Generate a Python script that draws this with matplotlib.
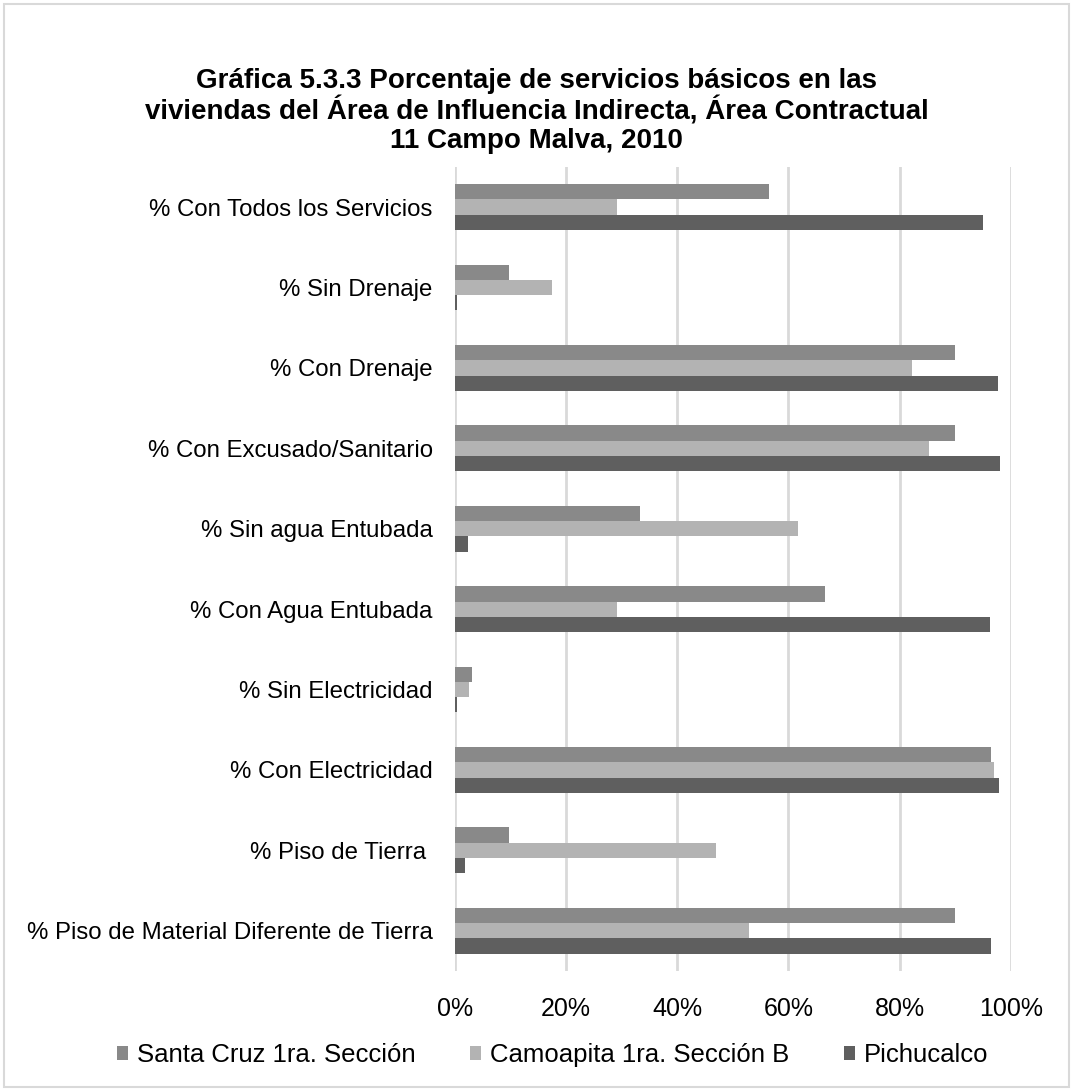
import matplotlib.pyplot as plt
import numpy as np
from matplotlib.patches import Rectangle

plt.rcParams['font.family'] = ['Liberation Sans', 'DejaVu Sans']

#%% data

categorias = ['% Con Todos los Servicios', '% Sin Drenaje', '% Con Drenaje',
              '% Con Excusado/Sanitario', '% Sin agua Entubada',
              '% Con Agua Entubada', '% Sin Electricidad', '% Con Electricidad',
              '% Piso de Tierra ', '% Piso de Material Diferente de Tierra']

santa_cruz = [56.5, 9.7, 90.0, 90.0, 33.3, 66.6, 3.0, 96.5, 9.7, 90.0]
camoapita = [29.1, 17.4, 82.2, 85.3, 61.8, 29.1, 2.6, 97.0, 46.9, 52.9]
pichucalco = [95.0, 0.4, 97.7, 98.1, 2.3, 96.2, 0.3, 97.9, 1.8, 96.4]

series = ['Santa Cruz 1ra. Sección', 'Camoapita 1ra. Sección B', 'Pichucalco']
colores = ['#898989', '#b3b3b3', '#5f5f5f']

#%% plot

fig = plt.figure(figsize=(10.73, 10.91), dpi=100)
ax = fig.add_axes([0.424, 0.110, 0.518, 0.737])

y = np.arange(len(categorias))
h = 0.19
for i, (vals, nombre, c) in enumerate(zip([santa_cruz, camoapita, pichucalco], series, colores)):
    ax.barh(y + (i - 1) * h, vals, height=h, color=c, label=nombre,
            linewidth=0, zorder=3)

ax.set_ylim(len(categorias) - 0.5, -0.5)
ax.set_xlim(0, 100)
ax.set_xticks(range(0, 101, 20))
ax.set_xticklabels([f'{v}%' for v in range(0, 101, 20)], fontsize=18)
ax.set_yticks(y)
ax.set_yticklabels(categorias, fontsize=17.3)
ax.tick_params(axis='y', length=0, pad=16, colors='#000000')
ax.tick_params(axis='x', length=0, pad=19, colors='#000000')
ax.grid(axis='x', color='#d9d9d9', linewidth=2, zorder=0)
for s in ax.spines.values():
    s.set_visible(False)

fig.text(0.5, 0.898, 'Gráfica 5.3.3 Porcentaje de servicios básicos en las\n'
         'viviendas del Área de Influencia Indirecta, Área Contractual\n'
         '11 Campo Malva, 2010', ha='center', va='center',
         fontsize=20, fontweight='bold', linespacing=1.12)

fig.legend(loc='center', bbox_to_anchor=(0.515, 0.033), ncol=3, frameon=False,
           fontsize=18.5, handlelength=0.45, handleheight=0.5, handletextpad=0.35,
           columnspacing=2.1)

fig.patches.append(Rectangle((0.004, 0.004), 0.992, 0.992, transform=fig.transFigure,
                             fill=False, edgecolor='#d9d9d9', linewidth=1.5))

fig.savefig('out.png', dpi=100)
